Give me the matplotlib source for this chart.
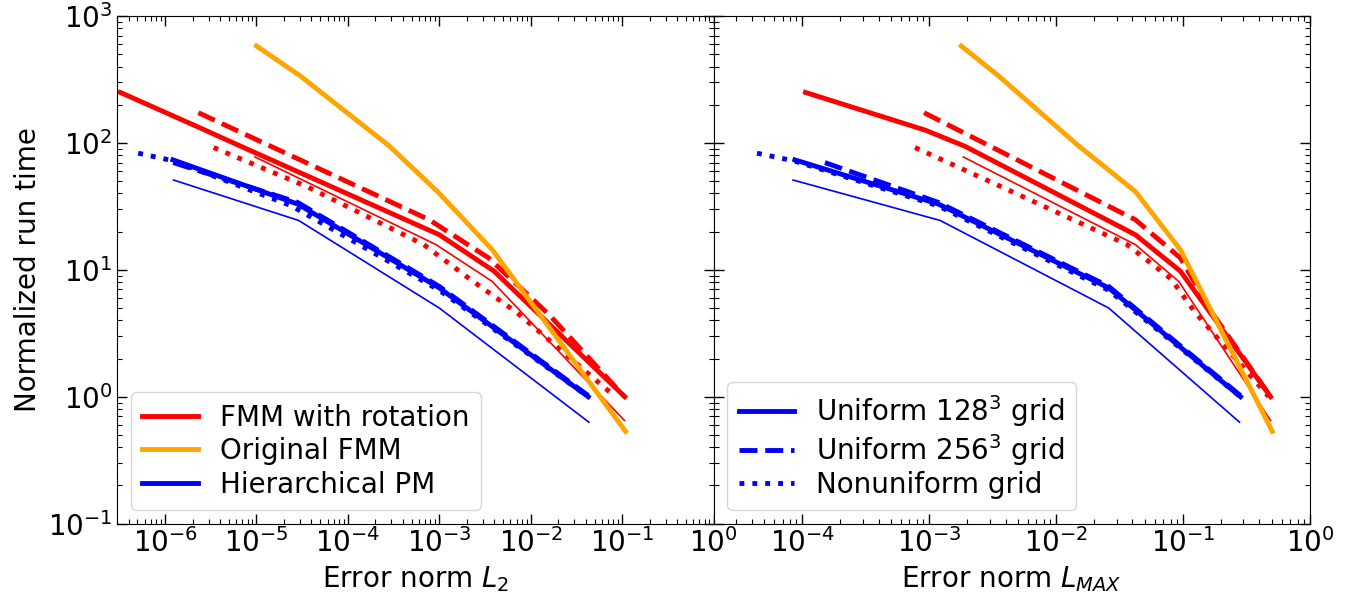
import matplotlib
matplotlib.use("Agg")
import matplotlib.pyplot as plt

# tempi normalizzati (uguali per i due pannelli) ed errori L2 / LMAX
# FMM con rotazione, griglia uniforme 128^3
rot128_time = [250, 126, 94, 18.9, 9.75, 1.0]
rot128_l2 = [3.24e-7, 2.75e-6, 6.76e-6, 1.0e-3, 3.98e-3, 0.107]
rot128_lmax = [1.06e-4, 9.33e-4, 1.92e-3, 0.0422, 0.0955, 0.491]

# FMM con rotazione, griglia uniforme 256^3
rot256_time = [173, 24.8, 12.4, 4.37, 1.0]
rot256_l2 = [2.32e-6, 7.76e-4, 3.47e-3, 1.62e-2, 0.106]
rot256_lmax = [9.12e-4, 0.0422, 0.0955, 0.175, 0.491]

# FMM con rotazione, griglia non uniforme
rotnu_time = [92, 45, 15.8, 8.5, 4.6, 1.0]
rotnu_l2 = [3.40e-6, 3.63e-5, 6.76e-4, 2.14e-3, 7.08e-3, 0.0841]
rotnu_lmax = [7.74e-4, 3.73e-3, 0.0363, 0.0804, 0.125, 0.475]

# FMM con rotazione, curva sottile
rotthin_time = [77.5, 15.8, 8.1, 0.65]
rotthin_l2 = [9.64e-6, 9.2e-4, 3.79e-3, 0.106]
rotthin_lmax = [1.86e-3, 0.0422, 0.0927, 0.491]

# FMM originale
orig_time = [581, 337, 95, 41.4, 14.4, 0.533]
orig_l2 = [1.0e-5, 3.02e-5, 2.82e-4, 9.55e-4, 3.8e-3, 0.109]
orig_lmax = [1.79e-3, 3.53e-3, 0.015, 0.0422, 0.0955, 0.506]

# PM gerarchico, uniforme 128^3
hpm128_time = [73.5, 33, 7.2, 1.0]
hpm128_l2 = [1.22e-6, 2.82e-5, 1.0e-3, 0.0426]
hpm128_lmax = [8.75e-5, 1.18e-3, 0.026, 0.284]

# PM gerarchico, uniforme 256^3
hpm256_time = [70, 34, 7.4, 1.02]
hpm256_l2 = [1.23e-6, 2.82e-5, 1.0e-3, 0.0426]
hpm256_lmax = [1.51e-4, 1.18e-3, 0.026, 0.284]

# PM gerarchico, non uniforme
hpmnu_time = [83, 72, 32, 6.9, 1.0]
hpmnu_l2 = [5.09e-7, 1.26e-6, 2.4e-5, 1.0e-3, 0.0426]
hpmnu_lmax = [4.4e-5, 8.7e-5, 1.17e-3, 0.026, 0.284]

# PM gerarchico, curva sottile
hpmthin_time = [51, 24.5, 5.0, 0.63]
hpmthin_l2 = [1.24e-6, 2.89e-5, 1.0e-3, 0.0433]
hpmthin_lmax = [8.47e-5, 1.22e-3, 0.026, 0.279]

FS = 20
LW = 3.5
LW_THIN = 1.2

plt.rcParams["font.size"] = FS

fig, (ax1, ax2) = plt.subplots(1, 2, sharey=True, figsize=(13.63, 5.93), dpi=100)
fig.subplots_adjust(left=0.086, right=0.961, top=0.973, bottom=0.117, wspace=0)

for ax, col in ((ax1, 0), (ax2, 1)):
    def x(l2, lmax):
        return l2 if col == 0 else lmax

    ax.plot(x(rot128_l2, rot128_lmax), rot128_time, color="red", lw=LW, ls="-")
    ax.plot(x(rot256_l2, rot256_lmax), rot256_time, color="red", lw=LW, ls="--")
    ax.plot(x(rotnu_l2, rotnu_lmax), rotnu_time, color="red", lw=LW, ls=":")
    ax.plot(x(rotthin_l2, rotthin_lmax), rotthin_time, color="red", lw=LW_THIN, ls="-")
    ax.plot(x(orig_l2, orig_lmax), orig_time, color="orange", lw=LW, ls="-")
    ax.plot(x(hpm128_l2, hpm128_lmax), hpm128_time, color="blue", lw=LW, ls="-")
    ax.plot(x(hpm256_l2, hpm256_lmax), hpm256_time, color="blue", lw=LW, ls="--")
    ax.plot(x(hpmnu_l2, hpmnu_lmax), hpmnu_time, color="blue", lw=LW, ls=":")
    ax.plot(x(hpmthin_l2, hpmthin_lmax), hpmthin_time, color="blue", lw=LW_THIN, ls="-")

    ax.set_xscale("log")
    ax.set_yscale("log")
    ax.tick_params(which="both", direction="in", top=True, right=True, labelsize=FS)
    ax.tick_params(which="major", length=7, width=1)
    ax.tick_params(which="minor", length=3.5, width=0.8)

ax1.set_xlim(3.0e-7, 1.0)
ax2.set_xlim(2.0e-5, 1.0)
ax1.set_ylim(0.1, 1000)

ax1.set_xlabel("Error norm $L_2$", fontsize=FS)
ax2.set_xlabel("Error norm $L_{MAX}$", fontsize=FS)
ax1.set_ylabel("Normalized run time", fontsize=FS)

# legende
h_rot, = ax1.plot([], [], color="red", lw=LW)
h_orig, = ax1.plot([], [], color="orange", lw=LW)
h_hpm, = ax1.plot([], [], color="blue", lw=LW)
ax1.legend([h_rot, h_orig, h_hpm],
           ["FMM with rotation", "Original FMM", "Hierarchical PM"],
           loc="lower left", fontsize=FS, labelspacing=0.2)

g1, = ax2.plot([], [], color="blue", lw=LW, ls="-")
g2, = ax2.plot([], [], color="blue", lw=LW, ls="--")
g3, = ax2.plot([], [], color="blue", lw=LW, ls=":")
ax2.legend([g1, g2, g3],
           ["Uniform 128$^3$ grid", "Uniform 256$^3$ grid", "Nonuniform grid"],
           loc="lower left", fontsize=FS, labelspacing=0.1)

fig.savefig("out.png", dpi=100)
